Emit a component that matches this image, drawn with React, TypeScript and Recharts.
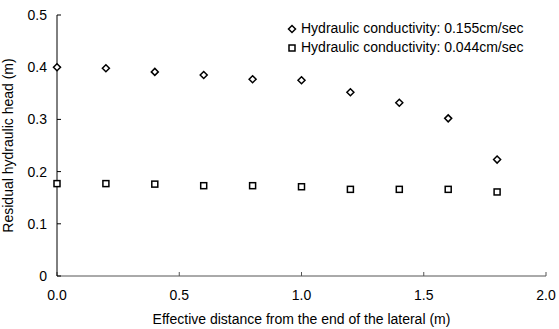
import { ScatterChart, Scatter, XAxis, YAxis, Label } from 'recharts'

// distances along the lateral (m)
const distances = [0, 0.2, 0.4, 0.6, 0.8, 1.0, 1.2, 1.4, 1.6, 1.8]
// residual head for K = 0.155 cm/sec
const headHighK = [0.4, 0.398, 0.391, 0.385, 0.377, 0.375, 0.352, 0.332, 0.302, 0.223]
// residual head for K = 0.044 cm/sec
const headLowK = [0.177, 0.177, 0.176, 0.173, 0.173, 0.171, 0.166, 0.166, 0.166, 0.161]

const xTicks = [0, 0.5, 1.0, 1.5, 2.0]
const yTicks = [0, 0.1, 0.2, 0.3, 0.4, 0.5]

const seriesNames = [
  'Hydraulic conductivity: 0.155cm/sec',
  'Hydraulic conductivity: 0.044cm/sec'
]

const highData = distances.map((x, i) => ({ x, y: headHighK[i] }))
const lowData = distances.map((x, i) => ({ x, y: headLowK[i] }))

const font = '"Liberation Sans", Arial, sans-serif'

function Diamond(props: any) {
  const { cx, cy } = props
  const r = 3.5
  return (
    <polygon
      points={`${cx},${cy - r} ${cx + r},${cy} ${cx},${cy + r} ${cx - r},${cy}`}
      fill="#fff"
      stroke="#000"
      strokeWidth={1.5}
    />
  )
}

function Square(props: any) {
  const { cx, cy } = props
  const r = 3
  return (
    <rect x={cx - r} y={cy - r} width={r * 2} height={r * 2} fill="#fff" stroke="#000" strokeWidth={1.5} />
  )
}

// legend drawn as an overlay so it doesn't eat into the plot area
function LegendBox() {
  return (
    <div
      style={{
        position: 'absolute',
        left: 287,
        top: 19,
        fontFamily: font,
        fontSize: 14,
        color: '#000',
        lineHeight: '19px'
      }}
    >
      {seriesNames.map((name, i) => (
        <div key={name} style={{ display: 'flex', alignItems: 'center' }}>
          <svg width={10} height={10} style={{ marginRight: 4 }}>
            {i === 0 ? <Diamond cx={5} cy={5} /> : <Square cx={5} cy={5} />}
          </svg>
          <span>{name}</span>
        </div>
      ))}
    </div>
  )
}

export default function App() {
  return (
    <div style={{ position: 'absolute', left: 0, top: 0, width: 559, height: 329, background: '#fff' }}>
      <ScatterChart width={559} height={329} margin={{ top: 15, right: 13, bottom: 5, left: 0 }}>
        <XAxis
          type="number"
          dataKey="x"
          domain={[0, 2]}
          ticks={xTicks}
          tickFormatter={(v: number) => v.toFixed(1)}
          height={48}
          tickSize={-4}
          tickMargin={18}
          stroke="#555"
          tick={{ fill: '#000', fontSize: 14, fontFamily: font }}
        >
          <Label
            value="Effective distance from the end of the lateral (m)"
            position="insideBottom"
            offset={0}
            style={{ fill: '#000', fontSize: 14, fontFamily: font }}
          />
        </XAxis>
        <YAxis
          type="number"
          dataKey="y"
          domain={[0, 0.5]}
          ticks={yTicks}
          tickFormatter={(v: number) => (v === 0 ? '0' : v.toFixed(1))}
          width={57}
          tickSize={-4}
          tickMargin={14}
          stroke="#000"
          tick={{ fill: '#000', fontSize: 14, fontFamily: font }}
        >
          <Label
            value="Residual hydraulic head (m)"
            angle={-90}
            position="insideLeft"
            offset={0}
            dx={8}
            style={{ textAnchor: 'middle', fill: '#000', fontSize: 14, fontFamily: font }}
          />
        </YAxis>
        <Scatter name={seriesNames[0]} data={highData} shape={Diamond} isAnimationActive={false} />
        <Scatter name={seriesNames[1]} data={lowData} shape={Square} isAnimationActive={false} />
      </ScatterChart>
      <LegendBox />
    </div>
  )
}
